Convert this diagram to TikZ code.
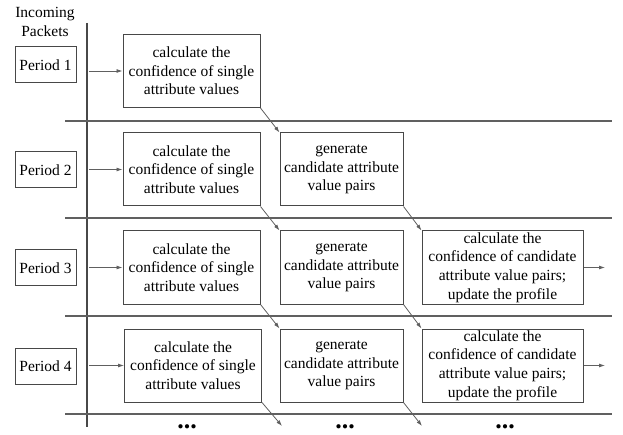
\documentclass[tikz,border=0pt]{standalone}
\usepackage{fontspec}
\setmainfont{Liberation Serif}
\usetikzlibrary{arrows.meta,positioning}
\definecolor{PktBox}{RGB}{72,72,72}
\definecolor{PktLine}{RGB}{96,96,96}
\tikzset{
  pkt/box/.style={
    draw=PktBox,
    line width=1pt,
    fill=white,
    align=center,
    inner sep=1pt,
    minimum height=73pt,
    font=\fontsize{15.5}{18.6}\selectfont
  },
  pkt/period/.style={
    draw=PktBox,
    line width=1pt,
    fill=white,
    minimum width=61pt,
    minimum height=36pt,
    inner sep=1pt,
    font=\fontsize{15.5}{18.6}\selectfont
  },
  pkt/arrow/.style={-{Latex[length=6pt,width=4pt]}, line width=0.8pt, draw=PktLine},
  pkt/rule/.style={line width=1.1pt, draw=PktLine},
  pkt/axis/.style={line width=2pt, draw=PktBox},
  pkt/dots/.style={font=\fontsize{26}{26}\selectfont\bfseries, inner sep=0pt}
}
\begin{document}
\begin{tikzpicture}[x=1pt,y=-1pt]
  \useasboundingbox (0,0) rectangle (623,435);
  % time axis and period separators
  \node[align=center,font=\fontsize{15.5}{18.6}\selectfont,inner sep=0pt] (incoming) at (45,22) {Incoming\\Packets};
  \draw[pkt/axis] (87,23) -- (87,427);
  \draw[pkt/rule] (65,121) -- (612,121);
  \draw[pkt/rule] (65,218) -- (612,218);
  \draw[pkt/rule] (65,316) -- (612,316);
  \draw[pkt/rule] (65,414) -- (612,414);
  % periods
  \node[pkt/period] (period1) at (45.5,65) {Period 1};
  \node[pkt/period] (period2) at (45.5,170) {Period 2};
  \node[pkt/period] (period3) at (45.5,268) {Period 3};
  \node[pkt/period] (period4) at (45.5,366) {Period 4};
  \coordinate (in1) at (89,71);
  \coordinate (in2) at (89,169.5);
  \coordinate (in3) at (89,267.5);
  \coordinate (in4) at (89,365.5);
  % row 1
  \node[pkt/box,minimum width=137pt] (single1) at (191.5,71) {calculate the\\confidence of single\\attribute values};
  % row 2
  \node[pkt/box,minimum width=137pt] (single2) at (191.5,169.5) {calculate the\\confidence of single\\attribute values};
  \node[pkt/box,minimum width=123pt] (pairs2) at (341.5,169.5) {generate\\candidate attribute\\value pairs};
  % row 3
  \node[pkt/box,minimum width=137pt] (single3) at (191.5,267.5) {calculate the\\confidence of single\\attribute values};
  \node[pkt/box,minimum width=123pt] (pairs3) at (341.5,267.5) {generate\\candidate attribute\\value pairs};
  \node[pkt/box,minimum width=161pt] (profile3) at (502.5,267.5) {calculate the\\confidence of candidate\\attribute value pairs;\\update the profile};
  % row 4
  \node[pkt/box,minimum width=137pt] (single4) at (193,365.5) {calculate the\\confidence of single\\attribute values};
  \node[pkt/box,minimum width=123pt] (pairs4) at (341.5,365.5) {generate\\candidate attribute\\value pairs};
  \node[pkt/box,minimum width=161pt] (profile4) at (502.5,365.5) {calculate the\\confidence of candidate\\attribute value pairs;\\update the profile};
  % incoming arrows
  \draw[pkt/arrow] (in1) -- (single1);
  \draw[pkt/arrow] (in2) -- (single2);
  \draw[pkt/arrow] (in3) -- (single3);
  \draw[pkt/arrow] (in4) -- (single4);
  % hand over to the next period
  \draw[pkt/arrow] (single1.south east) -- (pairs2.north west);
  \draw[pkt/arrow] (single2.south east) -- (pairs3.north west);
  \draw[pkt/arrow] (pairs2.south east) -- (profile3.north west);
  \draw[pkt/arrow] (single3.south east) -- (pairs4.north west);
  \draw[pkt/arrow] (pairs3.south east) -- (profile4.north west);
  \coordinate (out3) at (605,267.5);
  \coordinate (out4) at (605,365.5);
  \draw[pkt/arrow] (profile3) -- (out3);
  \draw[pkt/arrow] (profile4) -- (out4);
  \coordinate (next1) at (282,426);
  \coordinate (next2) at (422,426);
  \draw[pkt/arrow] (single4.south east) -- (next1);
  \draw[pkt/arrow] (pairs4.south east) -- (next2);
  % more periods
  \node[pkt/dots] (more1) at (187,427) {...};
  \node[pkt/dots] (more2) at (345,427) {...};
  \node[pkt/dots] (more3) at (505,427) {...};
\end{tikzpicture}
\end{document}
